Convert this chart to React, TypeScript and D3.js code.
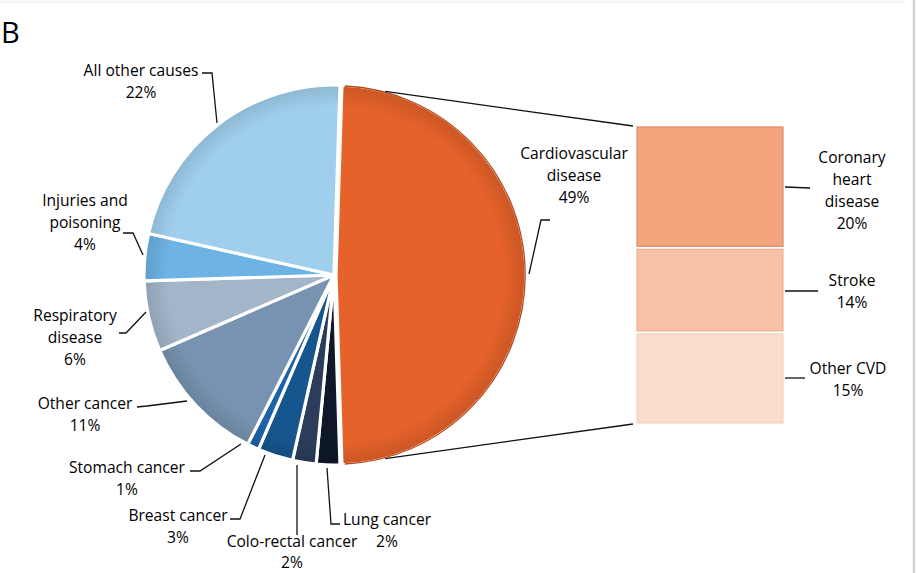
import React from "react";
import * as d3 from "d3";

// ---- data ----
const pieCategories = [
  "Cardiovascular disease",
  "Lung cancer",
  "Colo-rectal cancer",
  "Breast cancer",
  "Stomach cancer",
  "Other cancer",
  "Respiratory disease",
  "Injuries and poisoning",
  "All other causes",
];
const pieValues = [49, 2, 2, 3, 1, 11, 6, 4, 22];
const pieLabelLines = [
  ["Cardiovascular", "disease", "49%"],
  ["Lung cancer", "2%"],
  ["Colo-rectal cancer", "2%"],
  ["Breast cancer", "3%"],
  ["Stomach cancer", "1%"],
  ["Other cancer", "11%"],
  ["Respiratory", "disease", "6%"],
  ["Injuries and", "poisoning", "4%"],
  ["All other causes", "22%"],
];
const barCategories = ["Coronary heart disease", "Stroke", "Other CVD"];
const barValues = [20, 14, 15];
const barLabelLines = [
  ["Coronary", "heart", "disease", "20%"],
  ["Stroke", "14%"],
  ["Other CVD", "15%"],
];

// ---- styles / layout ----
const pieColors = [
  "#E5622A",
  "#0E1828",
  "#2B3D5A",
  "#16568F",
  "#1E62AA",
  "#7793B1",
  "#A2B5C9",
  "#6DB3E3",
  "#A0CFEE",
];
const barColors = ["#F4A57D", "#F8C0A4", "#FADCCB"];
const barStrokes = ["#D98D66", "#EBAF90", "#F6D3C0"];

const W = 916;
const H = 573;
const CX = 334;
const CY = 275;
const R = 190;
const EXPLODE = 2;
const BAR = { x0: 637, x1: 783, y0: 127, y1: 423 };
const FONT = "'Open Sans', 'DejaVu Sans', sans-serif";
const FS = 15.6;
const LH = 22;

// label anchor (centre x, first line centre y) and leader polylines
const pieLabelLayout = [
  { x: 574, y: 153, leader: [[550, 220], [541, 220], [529, 274]], lh: LH },
  { x: 387, y: 519, leader: [[327, 468], [331, 524], [340, 524]], lh: LH },
  { x: 292, y: 541, leader: [[297, 465], [297, 535]], lh: 20.5 },
  { x: 178, y: 515, leader: [[230, 519], [240, 519], [265, 455]], lh: LH },
  { x: 127, y: 467, leader: [[190, 471], [200, 471], [241, 444]], lh: LH },
  { x: 85, y: 403, leader: [[137, 407], [147, 406], [187, 401]], lh: LH },
  { x: 75, y: 315, leader: [[119, 333], [126, 333], [146, 312]], lh: LH },
  { x: 85, y: 200, leader: [[123, 233], [133, 233], [143, 255]], lh: LH },
  { x: 141, y: 70, leader: [[202, 73], [212, 73], [217, 123]], lh: LH },
];
const barLabelLayout = [
  { x: 852, y: 157, leader: [[785, 187], [810, 188]], lh: LH },
  { x: 852, y: 280, leader: [[785, 291], [818, 291]], lh: LH },
  { x: 848, y: 368, leader: [[785, 378], [805, 378]], lh: LH },
];

export default function App() {
  const total = d3.sum(pieValues);
  const cvdSpan = (pieValues[0] / total) * 2 * Math.PI;
  const start = Math.PI / 2 - cvdSpan / 2;
  const pie = d3
    .pie<number>()
    .sort(null)
    .value((d) => d)
    .startAngle(start)
    .endAngle(start + 2 * Math.PI);
  const arcs = pie(pieValues);
  const arcGen = d3.arc<d3.PieArcDatum<number>>().innerRadius(0).outerRadius(R);

  const barTotal = d3.sum(barValues);
  const y = d3.scaleLinear().domain([0, barTotal]).range([BAR.y0, BAR.y1]);
  let cum = 0;
  const barRects = barValues.map((v, i) => {
    const r = { i, top: y(cum), bottom: y(cum + v) };
    cum += v;
    return r;
  });

  const line = d3.line();

  // connector lines from exploded CVD slice to bar
  const ocx = CX + EXPLODE;
  const a1 = (15 * Math.PI) / 180;
  const a2 = (165 * Math.PI) / 180;
  const p1: [number, number] = [ocx + R * Math.sin(a1), CY - R * Math.cos(a1)];
  const p2: [number, number] = [ocx + R * Math.sin(a2), CY - R * Math.cos(a2)];

  const darker = (c: string, k: number) => d3.color(c)!.darker(k).formatHex();

  const renderLabel = (
    lines: string[],
    x: number,
    yy: number,
    lh: number,
    key: string
  ) => (
    <text
      key={key}
      x={x}
      y={yy}
      textAnchor="middle"
      fontFamily={FONT}
      fontSize={FS}
      fill="#000"
    >
      {lines.map((l, j) => (
        <tspan key={j} x={x} y={yy + j * lh} dominantBaseline="central">
          {l}
        </tspan>
      ))}
    </text>
  );

  return (
    <svg
      width={W}
      height={H}
      style={{ position: "absolute", left: 0, top: 0, background: "#fff" }}
    >
      <defs>
        {pieColors.map((c, i) => (
          <radialGradient
            key={i}
            id={`g${i}`}
            gradientUnits="userSpaceOnUse"
            cx={0}
            cy={0}
            r={R}
          >
            <stop offset="0%" stopColor={c} />
            <stop offset="88%" stopColor={c} />
            <stop offset="100%" stopColor={darker(c, 0.35)} />
          </radialGradient>
        ))}
      </defs>
      <rect x={0} y={0} width={W} height={H} fill="#fff" />
      <line x1={0} y1={2} x2={905} y2={2} stroke="#f4f4f4" strokeWidth={3} />
      <line x1={914} y1={0} x2={914} y2={H} stroke="#d2d2d2" strokeWidth={2.5} />

      <text x={1} y={43} fontFamily={FONT} fontSize={29} fill="#000">
        B
      </text>

      {/* pie slices */}
      {arcs.map((a, i) => {
        const dx = i === 0 ? EXPLODE : 0;
        return (
          <g key={pieCategories[i]} transform={`translate(${CX + dx},${CY})`}>
            <path
              d={arcGen(a) || ""}
              fill={`url(#g${i})`}
              stroke="#fff"
              strokeWidth={3.2}
              strokeLinejoin="round"
            />
          </g>
        );
      })}
      {/* dark rim on CVD slice */}
      <g transform={`translate(${CX + EXPLODE},${CY})`}>
        <path
          d={
            d3
              .arc<any>()
              .innerRadius(R - 0.8)
              .outerRadius(R - 0.8)({
              startAngle: arcs[0].startAngle + 0.015,
              endAngle: arcs[0].endAngle - 0.015,
            }) || ""
          }
          fill="none"
          stroke="#B44A1C"
          strokeWidth={1.3}
        />
      </g>

      {/* connector lines */}
      <path
        d={line([p1, [BAR.x0 - 4, BAR.y0 - 1]]) || ""}
        stroke="#111"
        strokeWidth={1.3}
        fill="none"
      />
      <path
        d={line([p2, [BAR.x0 - 4, BAR.y1 + 1]]) || ""}
        stroke="#111"
        strokeWidth={1.3}
        fill="none"
      />

      {/* bar */}
      {barRects.map((b) => (
        <rect
          key={barCategories[b.i]}
          x={BAR.x0}
          y={b.top + (b.i === 0 ? 0 : 1.5)}
          width={BAR.x1 - BAR.x0}
          height={b.bottom - b.top - (b.i === 0 || b.i === barRects.length - 1 ? 1.5 : 3)}
          fill={barColors[b.i]}
          stroke={barStrokes[b.i]}
          strokeWidth={1.2}
        />
      ))}

      {/* leaders */}
      {pieLabelLayout.map((l, i) => (
        <path
          key={`pl${i}`}
          d={line(l.leader as [number, number][]) || ""}
          stroke="#111"
          strokeWidth={1.3}
          fill="none"
        />
      ))}
      {barLabelLayout.map((l, i) => (
        <path
          key={`bl${i}`}
          d={line(l.leader as [number, number][]) || ""}
          stroke="#111"
          strokeWidth={1.3}
          fill="none"
        />
      ))}

      {/* labels */}
      {pieLabelLines.map((lines, i) =>
        renderLabel(
          lines,
          pieLabelLayout[i].x,
          pieLabelLayout[i].y,
          pieLabelLayout[i].lh,
          `pt${i}`
        )
      )}
      {barLabelLines.map((lines, i) =>
        renderLabel(
          lines,
          barLabelLayout[i].x,
          barLabelLayout[i].y,
          barLabelLayout[i].lh,
          `bt${i}`
        )
      )}
    </svg>
  );
}
